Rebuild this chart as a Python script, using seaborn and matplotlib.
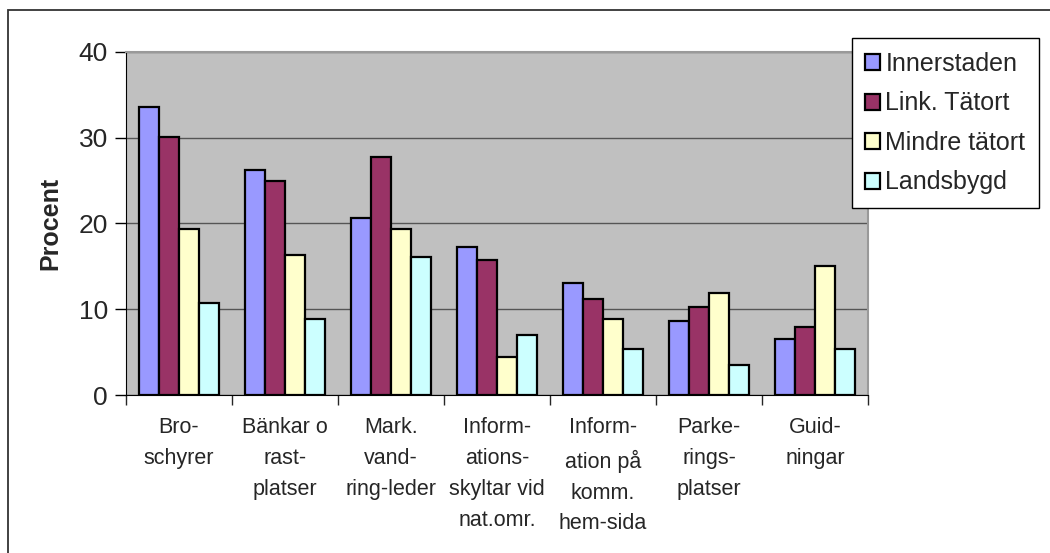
import seaborn as sns
import numpy as np
import matplotlib.pyplot as plt
import pandas as pd
from matplotlib.patches import Rectangle

kategorier = ["Bro-\nschyrer", "Bänkar o\nrast-\nplatser", "Mark.\nvand-\nring-leder",
              "Inform-\nations-\nskyltar vid\nnat.omr.", "Inform-\nation på\nkomm.\nhem-sida",
              "Parke-\nrings-\nplatser", "Guid-\nningar"]
grupper = ["Innerstaden", "Link. Tätort", "Mindre tätort", "Landsbygd"]
innerstaden = [33.6, 26.2, 20.6, 17.3, 13.1, 8.6, 6.5]
link_tatort = [30.1, 25.0, 27.8, 15.7, 11.2, 10.3, 7.9]
mindre_tatort = [19.4, 16.3, 19.4, 4.4, 8.9, 11.9, 15.0]
landsbygd = [10.7, 8.9, 16.1, 7.0, 5.4, 3.5, 5.4]
farger = ["#9999FF", "#993366", "#FFFFCC", "#CCFFFF"]

# långt format för seaborn
rader = []
for g, vals in zip(grupper, [innerstaden, link_tatort, mindre_tatort, landsbygd]):
    for k, v in zip(kategorier, vals):
        rader.append({"kategori": k, "grupp": g, "procent": v})
df = pd.DataFrame(rader)

sns.set_style("white")
plt.rcParams['font.family'] = ['Liberation Sans', 'DejaVu Sans']

fig = plt.figure(figsize=(10.5, 5.53), dpi=100)
ax = fig.add_axes([0.12, 0.2857, 0.7067, 0.6203])
ax.set_facecolor("#C0C0C0")

sns.barplot(data=df, x="kategori", y="procent", hue="grupp", palette=farger,
            width=0.755, gap=0, edgecolor="black", linewidth=1.6, ax=ax,
            errorbar=None, saturation=1)

ax.set_ylim(0, 40)
ax.set_xlim(-0.5, 6.5)
ax.set_yticks([0, 10, 20, 30, 40])
ax.yaxis.grid(True, color="#555555", linewidth=1)
ax.set_axisbelow(True)
ax.tick_params(axis="y", labelsize=19, length=8, width=1, color="black",
               direction="out", left=True, pad=5)

# tick-streck mellan kategorierna, etiketter i mitten
ax.set_xticks(np.arange(-0.5, 7.0, 1.0))
ax.set_xticklabels([])
ax.set_xticks(np.arange(7), minor=True)
ax.set_xticklabels(kategorier, minor=True, fontsize=15.5, linespacing=1.62, va="top")
ax.tick_params(axis="x", which="major", length=7, width=1, direction="out", bottom=True)
ax.tick_params(axis="x", which="minor", length=0, pad=16)

ax.set_xlabel("")
ax.set_ylabel("Procent", fontsize=18, fontweight="bold", labelpad=12)

for side in ["top", "right"]:
    ax.spines[side].set_color("#999999")
    ax.spines[side].set_linewidth(1.5)
ax.spines["left"].set_color("black")
ax.spines["bottom"].set_color("black")

ax.legend(loc="upper left", bbox_to_anchor=(0.811, 0.931), bbox_transform=fig.transFigure,
          fontsize=18, frameon=True, fancybox=False, edgecolor="black", framealpha=1,
          handlelength=0.6, handleheight=0.6, handletextpad=0.2, labelspacing=0.62,
          borderpad=0.55, borderaxespad=0)
ax.get_legend().get_frame().set_linewidth(1)

# ram runt diagrammet, höger och nederkant utanför bilden
fig.patches.append(Rectangle((8 / 1050, -10 / 553), 1100 / 1050, 553 / 553,
                             transform=fig.transFigure, fill=False,
                             edgecolor="#333333", linewidth=1.3))

plt.savefig("out.png", dpi=100)
